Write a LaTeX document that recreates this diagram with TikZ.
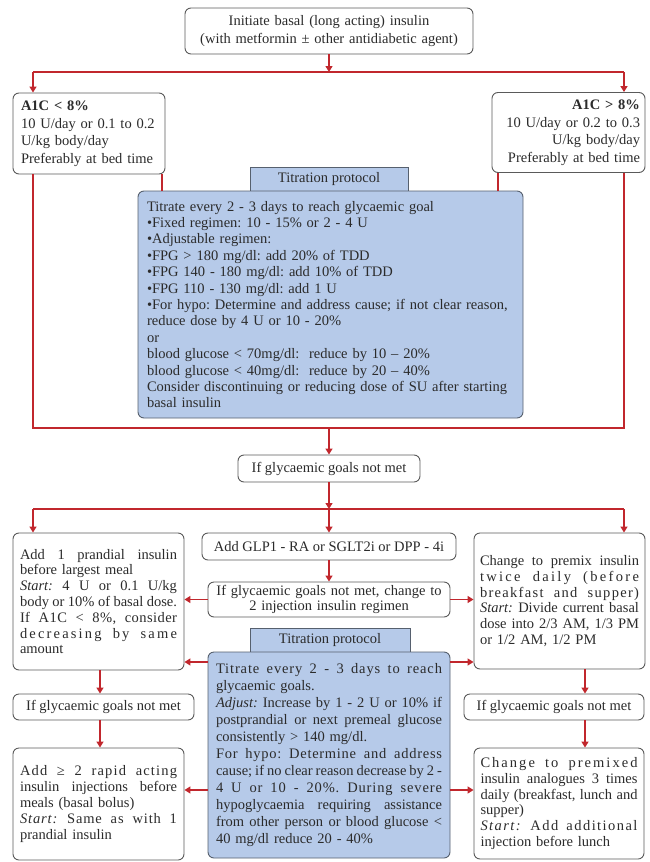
\documentclass[tikz,border=0pt]{standalone}
\usepackage{fontspec}
\setmainfont{Liberation Serif}
\usetikzlibrary{arrows.meta}
\definecolor{redc}{HTML}{C1272D}
\definecolor{bluef}{HTML}{B6CAE9}
\definecolor{bord}{HTML}{5A5A5A}
\definecolor{bluebord}{HTML}{56606E}
\definecolor{txt}{HTML}{2B2B2B}
\hyphenpenalty=10000
\exhyphenpenalty=10000
\frenchspacing
\newcommand\jl[1]{\makebox[\linewidth][s]{\spaceskip=0.25em plus 3em minus 0.12em\relax #1}\\}
\newcommand\jls[2]{\makebox[\linewidth][s]{\addfontfeatures{LetterSpace=#1}\spaceskip=0.25em plus 3em minus 0.12em\relax #2}\\}
\tikzset{
  box/.style={draw=bord, line width=0.9pt, rounded corners=6pt, fill=white, inner sep=0pt, text=txt},
  bluebox/.style={box, fill=bluef, draw=bluebord},
  tabbox/.style={draw=bluebord, fill=bluef, line width=0.9pt, inner sep=0pt, text=txt},
  fa/.style={font=\fontsize{14.5}{17.5}\selectfont},
  fb/.style={font=\fontsize{14.5}{15.8}\selectfont},
  fc/.style={font=\fontsize{14.5}{16.4}\selectfont},
  fd/.style={font=\fontsize{14.5}{17}\selectfont},
  arr/.style={draw=redc, line width=1.4pt, -{Triangle[width=7pt,length=6pt]}},
  rline/.style={draw=redc, line width=1.4pt},
}
\begin{document}
\begin{tikzpicture}[x=1pt, y=-1pt]
\useasboundingbox (0,0) rectangle (649,862);
% top part
\node[box, fa, minimum width=288pt, minimum height=46pt, text width=282pt, align=center] (top) at (329,31)
  {Initiate basal (long acting) insulin\\(with metformin ± other antidiabetic agent)};
\node[box, fa, minimum width=152pt, minimum height=81pt, text width=136pt, align=left] (leftA) at (89,133.5)
  {\textbf{A1C < 8\%}\\10 U/day or 0.1 to 0.2\\U/kg body/day\\Preferably at bed time};
\node[box, fa, minimum width=153pt, minimum height=80pt, text width=143pt, align=right] (rightA) at (568.5,132.5)
  {\textbf{A1C > 8\%}\\10 U/day or 0.2 to 0.3\\U/kg body/day\\Preferably at bed time};
\node[tabbox, fb, minimum width=158pt, minimum height=24pt] (tab1) at (329,179) {Titration protocol};
\node[bluebox, fc, minimum width=385pt, minimum height=227pt, text width=367pt, align=left] (blue1) at (330.5,304.5)
  {Titrate every 2 - 3 days to reach glycaemic goal\\
   •Fixed regimen: 10 - 15\% or 2 - 4 U\\
   •Adjustable regimen:\\
   •FPG > 180 mg/dl: add 20\% of TDD\\
   •FPG 140 - 180 mg/dl: add 10\% of TDD\\
   •FPG 110 - 130 mg/dl: add 1 U\\
   •For hypo: Determine and address cause; if not clear reason,\\
   reduce dose by 4 U or 10 - 20\%\\
   or\\
   blood glucose < 70mg/dl:~ reduce by 10 – 20\%\\
   blood glucose < 40mg/dl:~ reduce by 20 – 40\%\\
   Consider discontinuing or reducing dose of SU after starting\\
   basal insulin};
\node[box, fb, minimum width=182pt, minimum height=27pt] (goal1) at (329,468.5) {If glycaemic goals not met};
% bottom part
\node[box, fb, minimum width=171pt, minimum height=137pt, text width=157pt, align=left] (leftB) at (98.5,601.5)
  {\jl{Add 1 prandial insulin}
   before largest meal\\
   \jl{\textit{Start:} 4 U or 0.1 U/kg}
   \jl{body or 10\% of basal dose.}
   \jls{3}{If A1C < 8\%, consider}
   \jls{15}{decreasing by same}
   amount};
\node[box, fb, minimum width=254pt, minimum height=27pt] (glp) at (329,546.5) {Add GLP1 - RA or SGLT2i or DPP - 4i};
\node[box, fb, minimum width=242pt, minimum height=35pt, text width=236pt, align=center] (change2) at (329,599.5)
  {If glycaemic goals not met, change to\\2 injection insulin regimen};
\node[box, fb, minimum width=171pt, minimum height=136pt, text width=159pt, align=left] (rightB) at (559.5,601)
  {\jl{Change to premix insulin}
   \jls{16}{twice daily (before}
   \jls{9}{breakfast and supper)}
   \jl{\textit{Start:} Divide current basal}
   \jl{dose into 2/3 AM, 1/3 PM}
   or 1/2 AM, 1/2 PM};
\node[tabbox, fb, minimum width=160pt, minimum height=24pt] (tab2) at (330,640) {Titration protocol};
\node[bluebox, fd, minimum width=242pt, minimum height=206pt, text width=226pt, align=left] (blue2) at (329,755)
  {\jls{6}{Titrate every 2 - 3 days to reach}
   glycaemic goals.\\
   \jl{\textit{Adjust:} Increase by 1 - 2 U or 10\% if}
   \jl{postprandial or next premeal glucose}
   consistently > 140 mg/dl.\\
   \jls{5}{For hypo: Determine and address}
   \jl{cause; if no clear reason decrease by 2 -}
   \jls{6}{4 U or 10 - 20\%. During severe}
   \jl{hypoglycaemia requiring assistance}
   \jl{from other person or blood glucose <}
   40 mg/dl reduce 20 - 40\%};
\node[box, fb, minimum width=181pt, minimum height=26pt] (goalL) at (103.5,707) {If glycaemic goals not met};
\node[box, fb, minimum width=171pt, minimum height=112pt, text width=157pt, align=left] (leftC) at (98.5,804)
  {\jls{8}{Add ≥ 2 rapid acting}
   \jl{insulin injections before}
   meals (basal bolus)\\
   \jls{6}{\textit{Start:} Same as with 1}
   prandial insulin};
\node[box, fb, minimum width=180pt, minimum height=26pt] (goalR) at (554,707) {If glycaemic goals not met};
\node[box, fb, minimum width=170pt, minimum height=111pt, text width=157pt, align=left] (rightC) at (559,803.5)
  {\jls{14}{Change to premixed}
   \jl{insulin analogues 3 times}
   \jl{daily (breakfast, lunch and}
   supper)\\
   \jls{10}{\textit{Start:} Add additional}
   injection before lunch};
% coordinates
\coordinate (c1) at (329,72);
\coordinate (L1) at (33,72);
\coordinate (R1) at (624,72);
\coordinate (L2) at (33,428);
\coordinate (R2) at (624,428);
\coordinate (c2) at (329,428);
\coordinate (iL) at (162,0);
\coordinate (iR) at (498,0);
\coordinate (c3) at (329,509);
\coordinate (L3) at (33,509);
\coordinate (R3) at (624,509);
\coordinate (y1) at (0,662);
\coordinate (y2) at (0,790);
\coordinate (xl) at (100,0);
\coordinate (xr) at (585,0);
% connectors top
\draw[arr] (top.south) -- (c1);
\draw[rline] (L1) -- (R1);
\draw[arr] (L1) -- (L1 |- leftA.north);
\draw[arr] (R1) -- (R1 |- rightA.north);
\draw[rline] (L1 |- leftA.south) -- (L2) -- (R2) -- (R1 |- rightA.south);
\draw[rline] (iL |- leftA.south) -- (iL |- blue1.north);
\draw[rline] (iR |- rightA.south) -- (iR |- blue1.north);
\draw[arr] (c2) -- (goal1.north);
% connectors bottom
\draw[arr] (goal1.south) -- (c3);
\draw[rline] (L3) -- (R3);
\draw[arr] (L3) -- (L3 |- leftB.north);
\draw[arr] (c3) -- (glp.north);
\draw[arr] (R3) -- (R3 |- rightB.north);
\draw[arr] (glp.south) -- (change2.north);
\draw[arr] (change2.west) -- (change2.west -| leftB.east);
\draw[arr] (change2.east) -- (change2.east -| rightB.west);
\draw[arr] (blue2.west |- y1) -- (leftB.east |- y1);
\draw[arr] (blue2.west |- y2) -- (leftC.east |- y2);
\draw[arr] (blue2.east |- y1) -- (rightB.west |- y1);
\draw[arr] (blue2.east |- y2) -- (rightC.west |- y2);
\draw[arr] (xl |- leftB.south) -- (xl |- goalL.north);
\draw[arr] (xl |- goalL.south) -- (xl |- leftC.north);
\draw[arr] (xr |- rightB.south) -- (xr |- goalR.north);
\draw[arr] (xr |- goalR.south) -- (xr |- rightC.north);
\end{tikzpicture}
\end{document}
